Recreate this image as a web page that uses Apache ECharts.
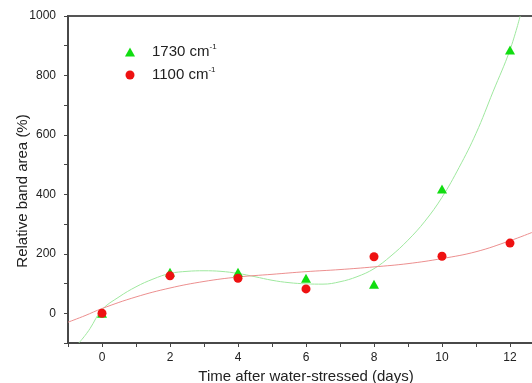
<!DOCTYPE html>
<html>
<head>
<meta charset="utf-8">
<script src="https://cdn.jsdelivr.net/npm/echarts@6/dist/echarts.min.js"></script>
<style>html,body{margin:0;padding:0;background:#fff}#c{width:532px;height:383px}</style>
</head>
<body>
<div id="c"></div>
<script>
// Measured points
const days = [0, 2, 4, 6, 8, 10, 12];
const band1730 = [0, 138, 138, 118, 98, 418, 886];
const band1100 = [0, 126, 118, 82, 190, 192, 236];
// Fitted curves
const fit1730X = [-0.68, -0.5, -0.35, 0, 0.5, 1, 1.5, 2, 2.5, 3, 3.5, 4, 4.5, 5, 5.5, 6, 6.5, 7, 7.5, 8, 8.5, 9, 9.5, 10, 10.5, 11, 11.5, 12, 12.3];
const fit1730Y = [-100, -75, -51, 12, 55, 89, 115, 134, 141, 143, 141, 134, 123, 111, 103, 99, 98, 106, 123, 150, 193, 246, 310, 390, 490, 605, 745, 886, 1000];
const fit1100X = [-1, -0.5, 0, 1, 2, 3, 4, 5, 6, 7, 8, 9, 10, 11, 12, 12.65];
const fit1100Y = [-30, -8, 16, 55, 85, 107, 122, 131, 140, 147, 156, 167, 184, 207, 244, 272];
const seriesNames = ['1730', '1100'];
const xTitle = 'Time after water-stressed (days)';
const yTitle = 'Relative band area (%)';

const zip = (a, b) => a.map((v, i) => [v, b[i]]);
const chart = echarts.init(document.getElementById('c'));
const font = 'Liberation Sans, Arial, sans-serif';
chart.setOption({
  animation: false,
  grid: {left: 68, top: 16, width: 476, height: 327, show: true, borderColor: '#555', borderWidth: 2,
    backgroundColor: 'transparent', containLabel: false, outerBoundsMode: 'none'},
  legend: {
    orient: 'vertical', left: 120, top: 38, itemWidth: 10, itemHeight: 9, itemGap: 5,
    data: [{name: seriesNames[0], icon: 'triangle'}, {name: seriesNames[1], icon: 'circle'}],
    formatter: n => '{b|' + n + ' cm}{s|-1}',
    textStyle: {
      padding: [0, 0, 0, 12],
      rich: {
        b: {fontFamily: font, fontSize: 15, color: '#222', lineHeight: 18},
        s: {fontFamily: font, fontSize: 8, color: '#222', lineHeight: 18, verticalAlign: 'top', padding: [0, 0, 10, 0]}
      }
    }
  },
  xAxis: {
    type: 'value', min: -1, max: 13, interval: 1,
    name: xTitle, nameLocation: 'middle', nameGap: 25,
    nameTextStyle: {fontFamily: font, fontSize: 15, color: '#222'},
    axisLine: {onZero: false, lineStyle: {color: '#444', width: 1.5}},
    axisTick: {length: 4, lineStyle: {color: '#444'}},
    axisLabel: {margin: 9, fontFamily: font, fontSize: 12, color: '#222', showMinLabel: true, showMaxLabel: true,
      formatter: v => (v % 2 === 0 && v >= 0 && v <= 12) ? String(v) : ''},
    splitLine: {show: false}
  },
  yAxis: {
    type: 'value', min: -100, max: 1000, interval: 100,
    axisLine: {show: true, onZero: false, lineStyle: {color: '#444', width: 1.5}},
    axisTick: {show: true, length: 4, lineStyle: {color: '#444'}},
    axisLabel: {margin: 12, fontFamily: font, fontSize: 12, color: '#222',
      formatter: v => (v % 200 === 0) ? String(v) : ''},
    splitLine: {show: false}
  },
  graphic: [{
    type: 'text', x: 23, y: 191, rotation: Math.PI / 2,
    style: {text: yTitle, fontFamily: font, fontSize: 15, fill: '#222', textAlign: 'center', textVerticalAlign: 'middle'}
  }],
  series: [
    {type: 'line', name: 'fit1730', data: zip(fit1730X, fit1730Y), smooth: 0.4, showSymbol: false, symbol: 'none',
      lineStyle: {color: '#9fe89f', width: 1}, silent: true, z: 1},
    {type: 'line', name: 'fit1100', data: zip(fit1100X, fit1100Y), smooth: 0.4, showSymbol: false, symbol: 'none',
      lineStyle: {color: '#ec8f8f', width: 1}, silent: true, z: 1},
    {type: 'scatter', name: seriesNames[0], data: zip(days, band1730), symbol: 'triangle', symbolSize: [10, 9],
      itemStyle: {color: '#11dd11', opacity: 1}, z: 3},
    {type: 'scatter', name: seriesNames[1], data: zip(days, band1100), symbol: 'circle', symbolSize: 9,
      itemStyle: {color: '#ee1111', opacity: 1}, z: 4}
  ]
});
</script>
</body>
</html>
